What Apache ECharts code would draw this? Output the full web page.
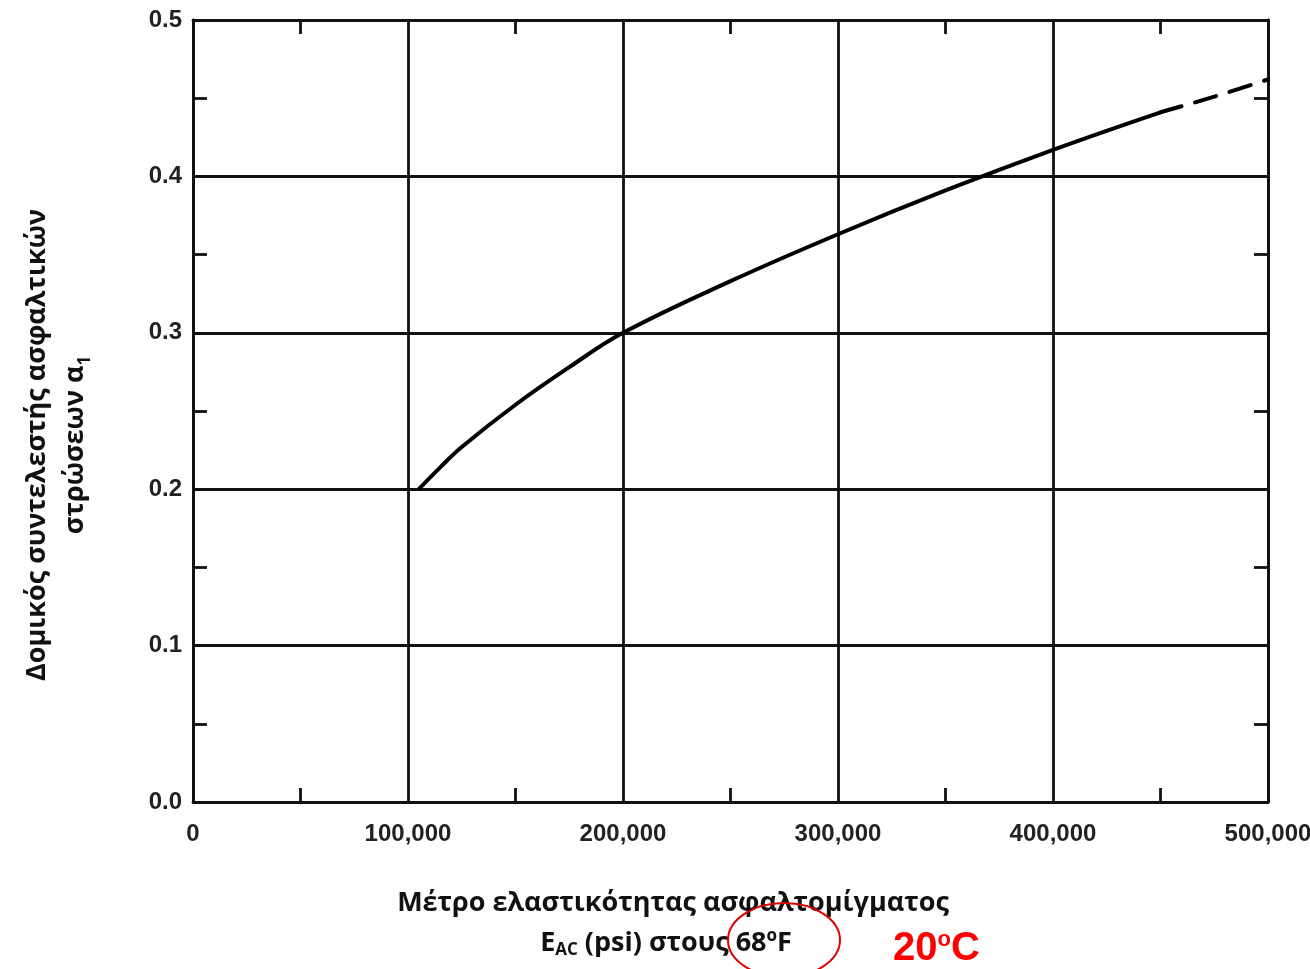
<!DOCTYPE html>
<html>
<head>
<meta charset="utf-8">
<script src="https://cdn.jsdelivr.net/npm/echarts@6/dist/echarts.min.js"></script>
<style>
html,body{margin:0;padding:0;background:#fff;}
#c{width:1310px;height:969px;}
</style>
</head>
<body>
<div id="c"></div>
<script>
// Data
const eSolid = [105000, 115000, 125000, 150000, 175000, 200000, 250000, 300000, 350000, 400000, 450000];
const a1Solid = [0.200, 0.214, 0.227, 0.254, 0.278, 0.300, 0.333, 0.363, 0.391, 0.417, 0.441];
const eDashed = [450000, 475000, 500000];
const a1Dashed = [0.441, 0.451, 0.462];
const xTickLabels = ['0', '100,000', '200,000', '300,000', '400,000', '500,000'];
const yTickLabels = ['0.0', '0.1', '0.2', '0.3', '0.4', '0.5'];

const solidData = eSolid.map((e, i) => [e, a1Solid[i]]);
const dashedData = eDashed.map((e, i) => [e, a1Dashed[i]]);

const chart = echarts.init(document.getElementById('c'), null, {renderer: 'canvas'});

const lineStyle = {color: '#111', width: 2.8};
const labelStyle = {color: '#222', fontFamily: 'Liberation Sans', fontWeight: 'bold', fontSize: 24};
const titleFont = {fill: '#111', fontFamily: 'Open Sans', fontWeight: 700, fontSize: 27};

function xAxisBase(pos) {
  return {
    type: 'value', min: 0, max: 500000, interval: 100000, position: pos,
    axisLine: {show: true, onZero: false, lineStyle: lineStyle},
    axisTick: {show: false, inside: true},
    minorTick: {show: true, splitNumber: 2, length: 14, lineStyle: {color: '#111', width: 2.8}},
    minorSplitLine: {show: false}
  };
}
function yAxisBase(pos) {
  return {
    type: 'value', min: 0, max: 0.5, interval: 0.1, position: pos,
    axisLine: {show: true, onZero: false, lineStyle: lineStyle},
    axisTick: {show: false, inside: true},
    minorTick: {show: true, splitNumber: 2, length: 14, lineStyle: {color: '#111', width: 2.8}},
    minorSplitLine: {show: false}
  };
}

const option = {
  backgroundColor: '#fff',
  animation: false,
  grid: {left: 193, right: 42, top: 20, bottom: 167, outerBoundsMode: 'none', containLabel: false},
  xAxis: [
    Object.assign(xAxisBase('bottom'), {
      splitLine: {show: true, lineStyle: lineStyle},
      axisLabel: Object.assign({margin: 20, formatter: (v) => xTickLabels[Math.round(v / 100000)]}, labelStyle)
    }),
    Object.assign(xAxisBase('top'), {splitLine: {show: false}, axisLabel: {show: false}})
  ],
  yAxis: [
    Object.assign(yAxisBase('left'), {
      splitLine: {show: true, lineStyle: lineStyle},
      axisLabel: Object.assign({margin: 11, formatter: (v) => yTickLabels[Math.round(v * 10)]}, labelStyle)
    }),
    Object.assign(yAxisBase('right'), {splitLine: {show: false}, axisLabel: {show: false}})
  ],
  series: [
    {
      type: 'line', data: solidData, smooth: 0.4, showSymbol: false, symbol: 'none',
      lineStyle: {color: '#000', width: 4}, z: 5
    },
    {
      type: 'line', data: dashedData, smooth: 0.4, showSymbol: false, symbol: 'none',
      lineStyle: {color: '#000', width: 4, type: [22, 14], cap: 'round'}, z: 5
    }
  ],
  graphic: [
    {
      type: 'text', x: 673, y: 903,
      style: Object.assign({text: 'Μέτρο ελαστικότητας ασφαλτομίγματος', align: 'center', verticalAlign: 'middle'}, titleFont)
    },
    {
      type: 'text', x: 666, y: 943,
      style: {
        text: '{e|E}{sub|AC}{e| (psi) στους 68}{sup|o}{e|F}', align: 'center', verticalAlign: 'middle',
        rich: {
          e: titleFont,
          sub: Object.assign({}, titleFont, {fontSize: 17, verticalAlign: 'bottom', padding: [14, 0, 0, 0]}),
          sup: Object.assign({}, titleFont, {fontSize: 17, verticalAlign: 'top', padding: [0, 0, 12, 0]})
        }
      }
    },
    {
      type: 'text', x: 56, y: 445, rotation: Math.PI / 2,
      style: {
        text: '{e|Δομικός συντελεστής ασφαλτικών}\n{e|στρώσεων α}{sub|1}', align: 'center', verticalAlign: 'middle',
        lineHeight: 38,
        rich: {
          e: Object.assign({}, titleFont, {lineHeight: 38}),
          sub: Object.assign({}, titleFont, {fontSize: 17, lineHeight: 38, verticalAlign: 'bottom', padding: [14, 0, 0, 0]})
        }
      }
    },
    {
      type: 'ellipse', shape: {cx: 784, cy: 940, rx: 56, ry: 37},
      style: {fill: 'none', stroke: '#e00000', lineWidth: 2}
    },
    {
      type: 'text', x: 893, y: 949,
      style: {
        text: '{a|20}{s|o}{a|C}', verticalAlign: 'middle',
        rich: {
          a: {fill: '#ff0000', fontFamily: 'Liberation Sans', fontWeight: 'bold', fontSize: 40},
          s: {fill: '#ff0000', fontFamily: 'Liberation Sans', fontWeight: 'bold', fontSize: 22, verticalAlign: 'top', padding: [0, 0, 16, 0]}
        }
      }
    }
  ]
};
chart.setOption(option);
</script>
</body>
</html>
